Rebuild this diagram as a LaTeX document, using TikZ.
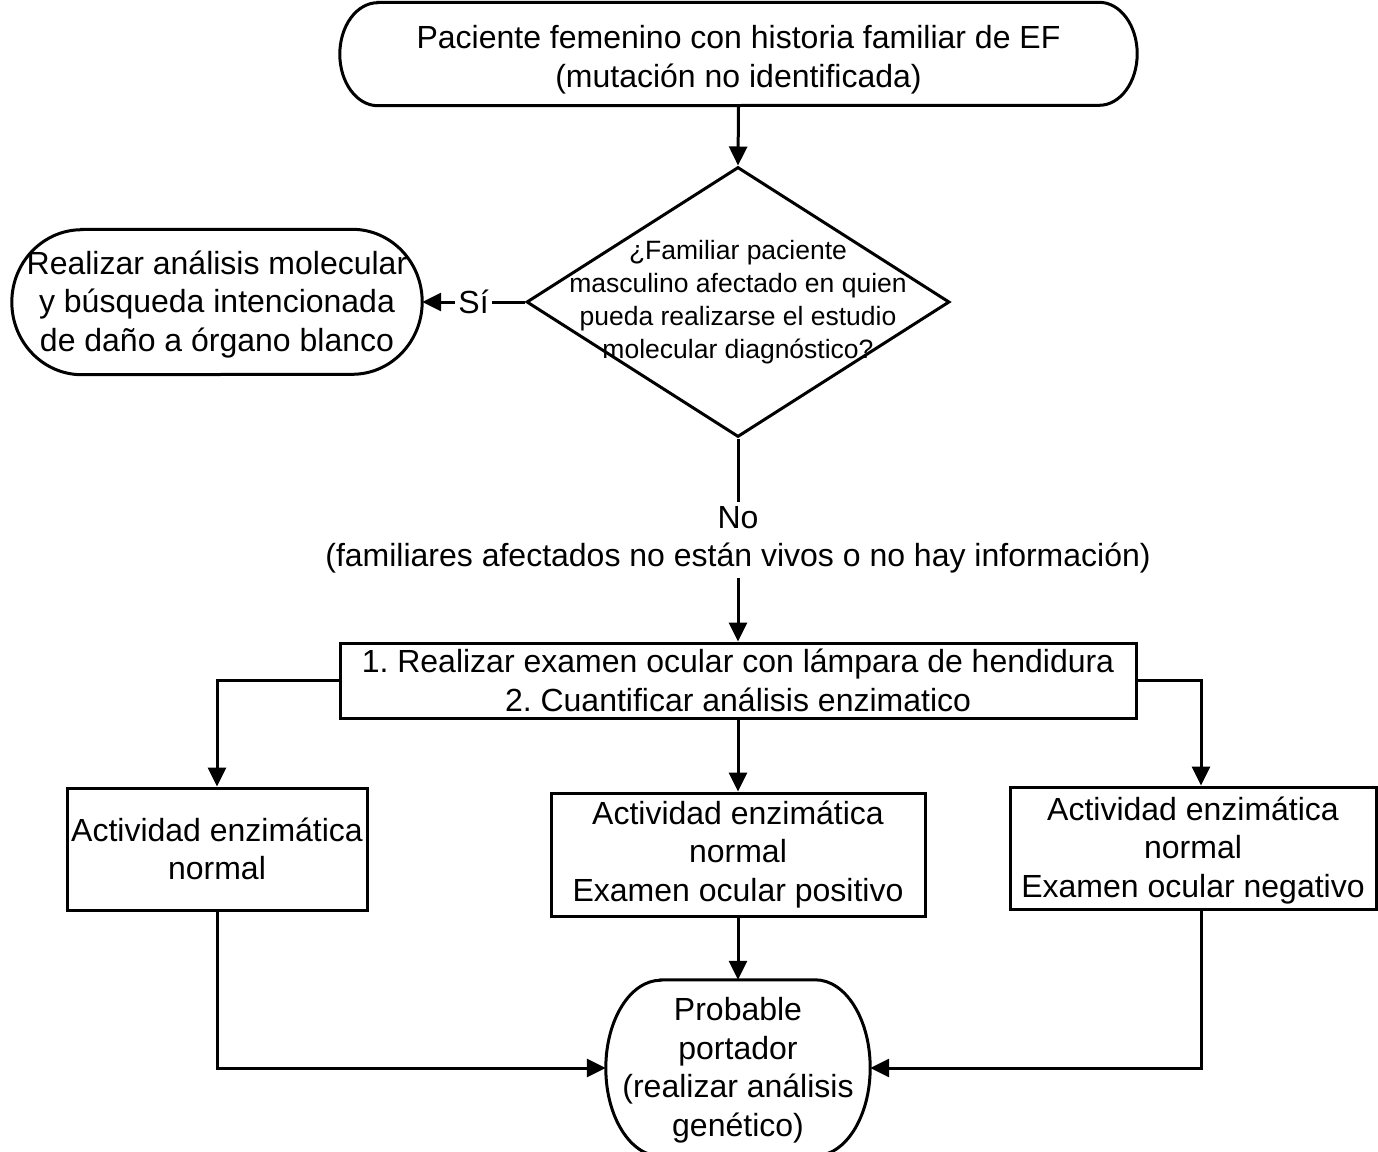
\documentclass[tikz,border=0pt]{standalone}
\usepackage{fontspec}
\setmainfont{Liberation Sans}
\usetikzlibrary{shapes.geometric,arrows.meta,calc}
\frenchspacing

\tikzset{
  base/.style={line width=3pt},
  txt/.style={font=\fontsize{32}{38.5}\selectfont, align=center},
  boxnode/.style={txt, draw, base, rectangle, inner sep=0pt},
  termnode/.style={txt, inner sep=0pt},
  flow/.style={base, -{Triangle[length=19pt,width=18pt]}},
  edgelabel/.style={txt, fill=white, inner sep=3pt},
}

% outline of a terminal: flat top and bottom, elliptical ends
% #1 node name, #2 horizontal radius, #3 vertical radius
\newcommand\termoutline[3]{%
  \draw[base] ($(#1.north west)+(#2,0)$) -- ($(#1.north east)+(-#2,0)$)
    arc[start angle=90, end angle=-90, x radius=#2, y radius=#3]
    -- ($(#1.south west)+(#2,0)$)
    arc[start angle=270, end angle=90, x radius=#2, y radius=#3] -- cycle;}

\begin{document}
\begin{tikzpicture}[x=1pt, y=1pt]
\useasboundingbox (0,0) rectangle (1378,-1151);

% start
\node[termnode, minimum width=797pt, minimum height=103pt] (top) at (738.5,-54)
  {\rule{0pt}{35pt}Paciente femenino con historia familiar de EF\\(mutación no identificada)};
\termoutline{top}{38}{51.5}

% decision
\node[diamond, draw, base, minimum width=423pt, minimum height=270pt, inner sep=0pt] (q) at (738,-302) {};
\node[font=\fontsize{26.5}{33}\selectfont, align=center, inner sep=0pt] (qtext) at (q.center)
  {¿Familiar paciente\\masculino afectado en quien\\pueda realizarse el estudio\\molecular diagnóstico?};

% yes branch
\node[termnode, minimum width=410pt, minimum height=145pt] (yes) at (217,-302)
  {\rule{0pt}{28pt}Realizar análisis molecular\\y búsqueda intencionada\\de daño a órgano blanco};
\termoutline{yes}{70}{72.5}

% tests
\node[boxnode, minimum width=796pt, minimum height=75pt] (big) at (738,-680.5)
  {1. Realizar examen ocular con lámpara de hendidura\\2. Cuantificar análisis enzimatico};

% results
\node[boxnode, minimum width=300pt, minimum height=122pt] (lbox) at (217,-849)
  {Actividad enzimática\\normal};
\node[boxnode, minimum width=374pt, minimum height=123pt] (mbox) at (738,-854.5)
  {Actividad enzimática\\normal\\Examen ocular positivo};
\node[boxnode, minimum width=366pt, minimum height=122pt] (rbox) at (1193,-848)
  {\rule{0pt}{28pt}Actividad enzimática\\normal\\Examen ocular negativo};
\coordinate (rcol) at (1201,-678);

% outcome
\node[termnode, minimum width=264pt, minimum height=176pt] (bot) at (738,-1068)
  {\rule{0pt}{28pt}Probable\\portador\\(realizar análisis\\genético)};
\termoutline{bot}{55}{88}

% connectors
\draw[flow] (top.south) -- (q.north);
\draw[flow] (q.west) -- node[edgelabel] (si) {Sí} (yes.east);
\draw[flow] (q.south) -- node[edgelabel, inner sep=4pt] (no)
  {No\\(familiares afectados no están vivos o no hay información)} (big.north);
\draw[flow] (big.west) -| (lbox.north);
\draw[flow] (big.east) -| (rbox.north -| rcol);
\draw[flow] (big.south) -- (mbox.north);
\draw[flow] (mbox.south) -- (bot.north);
\draw[flow] (lbox.south) |- (bot.west);
\draw[flow] (rbox.south -| rcol) |- (bot.east);
\end{tikzpicture}
\end{document}
